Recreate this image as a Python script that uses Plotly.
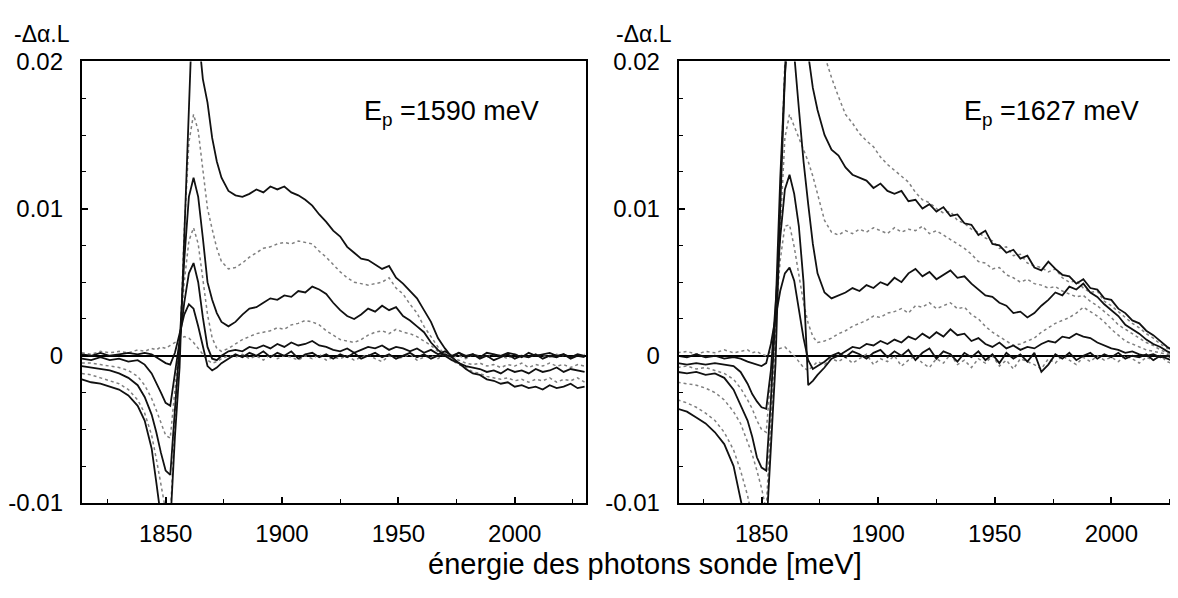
import plotly.graph_objects as go

# ---------------- data (probe photon energy in meV, signal in units of 1e-3) ----------------
E = [1814, 1818, 1822, 1826, 1830, 1834, 1838, 1841, 1844, 1846, 1848, 1850, 1852, 1854, 1856,
     1858, 1860, 1862, 1864, 1866, 1868, 1870, 1872, 1874, 1877, 1880, 1883, 1886, 1889, 1892,
     1895, 1898, 1901, 1904, 1907, 1910, 1913, 1916, 1919, 1922, 1925, 1928, 1931, 1934, 1937,
     1940, 1943, 1946, 1949, 1952, 1955, 1958, 1961, 1964, 1967, 1970, 1973, 1976, 1979, 1982,
     1985, 1988, 1991, 1994, 1997, 2000, 2003, 2006, 2009, 2012, 2015, 2018, 2021, 2024, 2027, 2030]

SCALE = 1e-3  # values below are given in units of 1e-3

# Left panel, E_p = 1590 meV
left_c1_m = [-1.6, -1.8, -1.9, -2.1, -2.3, -2.7, -3.4, -4.4, -6.3, -8.6, -11.0, -12.5, -11.5, -5.5, -0.8,
             8.0, 17.0, 25.5, 22.0, 18.8, 17.2, 14.8, 13.2, 12.1, 11.2, 10.9, 10.8, 11.0, 11.3, 11.1,
             11.5, 11.3, 11.5, 11.1, 10.9, 10.6, 10.2, 9.6, 9.1, 8.5, 8.1, 7.4, 7.0, 6.6, 6.5,
             6.2, 5.9, 6.1, 5.3, 4.9, 4.4, 3.9, 3.1, 2.3, 1.2, 0.5, -0.1, -0.5, -0.9, -1.2,
             -1.3, -1.6, -1.7, -1.9, -1.8, -2.1, -2.0, -2.2, -2.1, -2.3, -2.0, -2.2, -2.1, -1.9, -2.2, -2.1]
left_c2_m = [-1.2, -1.3, -1.5, -1.7, -1.9, -2.3, -3.0, -3.9, -5.4, -7.0, -8.8, -10.5, -11.0, -4.5, 0.0,
             8.5, 14.5, 16.4, 15.3, 12.6, 10.0, 8.6, 7.3, 6.4, 5.9, 6.0, 6.3, 6.7, 7.0, 7.3,
             7.4, 7.6, 7.7, 7.6, 7.8, 7.7, 7.6, 7.1, 6.7, 6.2, 5.7, 5.3, 5.0, 4.9, 4.8,
             4.9, 5.0, 5.3, 4.6, 4.2, 3.5, 2.9, 2.0, 1.3, 0.6, 0.1, -0.3, -0.6, -0.8, -1.1,
             -1.2, -1.4, -1.5, -1.6, -1.5, -1.7, -1.6, -1.8, -1.6, -1.7, -1.5, -1.8, -1.6, -1.7, -1.5, -1.8]
left_c3_m = [-0.7, -0.8, -0.9, -1.0, -1.2, -1.5, -2.0, -2.8, -4.0, -5.2, -6.6, -7.8, -8.1, -3.5, 0.8,
             6.5, 10.8, 12.1, 10.8, 8.0, 5.0, 3.8, 2.9, 2.3, 2.0, 2.3, 2.8, 3.2, 3.3, 3.6,
             3.9, 3.8, 4.1, 4.0, 4.4, 4.3, 4.7, 4.5, 4.2, 3.6, 3.1, 2.7, 2.5, 2.8, 3.2,
             3.0, 3.4, 3.1, 3.3, 2.7, 2.4, 2.0, 1.6, 0.9, 0.4, 0.0, -0.3, -0.5, -0.7, -0.8,
             -0.9, -1.1, -1.0, -1.2, -0.9, -1.1, -1.0, -1.2, -0.9, -1.1, -1.0, -0.8, -1.1, -0.9, -1.0, -1.1]
left_c4_m = [-0.5, -0.5, -0.6, -0.7, -0.8, -1.0, -1.4, -2.0, -2.9, -3.7, -4.6, -5.4, -5.6, -2.2, 1.0,
             5.0, 7.8, 8.7, 7.6, 5.2, 2.8, 1.2, 0.5, 0.3, 0.5, 0.8, 1.1, 1.3, 1.5, 1.6,
             1.7, 1.9, 1.8, 2.1, 2.2, 2.4, 2.3, 2.1, 1.7, 1.4, 1.1, 1.0, 0.9, 1.1, 1.4,
             1.6, 1.7, 1.5, 1.8, 1.6, 1.5, 1.3, 1.0, 0.7, 0.3, 0.0, -0.2, -0.3, -0.5, -0.6,
             -0.5, -0.7, -0.6, -0.8, -0.6, -0.7, -0.5, -0.8, -0.6, -0.7, -0.5, -0.7, -0.6, -0.8, -0.6, -0.7]
left_c5_m = [-0.2, -0.3, -0.1, -0.3, -0.2, -0.4, -0.3, -0.6, -1.2, -1.8, -2.5, -3.2, -3.4, -1.2, 1.0,
             3.6, 5.6, 6.3, 5.0, 2.6, 0.6, -0.2, -0.3, 0.0, 0.3, 0.4, 0.3, 0.6, 0.5, 0.7,
             0.5, 0.8, 0.6, 0.9, 0.7, 0.8, 1.0, 0.7, 0.6, 0.4, 0.3, 0.5, 0.2, 0.4, 0.6,
             0.5, 0.7, 0.4, 0.6, 0.5, 0.3, 0.5, 0.2, 0.4, 0.1, 0.3, 0.0, 0.2, -0.1, 0.1,
             -0.2, 0.0, -0.3, -0.1, 0.1, -0.2, 0.0, -0.1, 0.1, -0.2, 0.0, -0.1, 0.1, -0.2, 0.0, -0.1]
left_c6_m = [0.1, 0.0, 0.2, 0.0, 0.1, 0.2, 0.1, 0.2, 0.1, -0.1, -0.3, -0.5, -0.6, 0.2, 1.5,
             2.8, 3.5, 3.2, 2.0, 0.6, -0.7, -1.0, -0.8, -0.5, -0.2, 0.1, -0.1, 0.2, 0.0, 0.3,
             -0.1, 0.2, 0.0, 0.3, -0.2, 0.1, 0.2, -0.1, 0.1, -0.2, 0.1, -0.1, 0.2, -0.2, 0.0,
             0.2, -0.1, 0.1, -0.2, 0.0, 0.2, -0.1, 0.1, -0.2, 0.0, 0.1, -0.1, 0.2, 0.0, 0.1,
             -0.1, 0.2, 0.1, 0.0, 0.2, 0.1, -0.1, 0.2, 0.0, 0.1, 0.2, 0.0, 0.1, -0.1, 0.1, 0.0]
left_c7_m = [0.2, 0.1, 0.3, 0.2, 0.3, 0.2, 0.4, 0.3, 0.5, 0.4, 0.6, 0.5, 0.7, 0.9, 1.1,
             1.3, 1.2, 0.9, 0.5, 0.1, -0.3, -0.5, -0.4, -0.2, 0.0, -0.1, 0.1, -0.2, 0.0, -0.3,
             0.1, -0.2, 0.0, -0.1, -0.3, 0.0, -0.2, 0.1, -0.3, -0.1, -0.2, 0.0, -0.3, -0.1, 0.1,
             -0.2, -0.4, 0.0, -0.2, -0.1, 0.1, -0.3, -0.1, 0.0, -0.2, 0.1, -0.1, 0.0, -0.2, 0.1,
             0.0, -0.1, 0.1, 0.0, -0.2, 0.1, 0.0, -0.1, 0.1, 0.0, -0.1, 0.1, 0.0, -0.1, 0.0, 0.1]

# Right panel, E_p = 1627 meV
right_c1_m = [-3.6, -3.8, -4.2, -4.6, -5.2, -6.0, -7.5, -9.8, -12.0, -13.0, -13.0, -13.0, -12.0, -6.0, -0.5,
              10.0, 20.0, 28.0, 30.0, 28.0, 24.0, 20.5, 18.2, 16.7, 15.0, 14.0, 13.6, 12.8, 12.3, 12.1,
              11.9, 11.4, 11.7, 11.2, 11.0, 11.2, 10.5, 10.6, 10.0, 10.3, 9.8, 10.1, 9.5, 9.6, 9.0,
              8.9, 8.2, 8.5, 7.6, 7.5, 7.0, 7.2, 6.6, 6.8, 6.0, 5.8, 6.4, 5.9, 5.5, 5.4,
              4.9, 5.2, 4.6, 4.5, 3.9, 3.8, 3.2, 2.9, 2.4, 2.2, 1.7, 1.4, 1.0, 0.6, 0.3, 0.1]
right_c2_m = [-3.0, -3.2, -3.5, -3.9, -4.4, -5.2, -6.4, -7.8, -9.5, -11.0, -12.5, -13.0, -12.0, -5.0, 1.0,
              11.0, 21.0, 29.0, 31.0, 30.0, 28.0, 26.0, 24.0, 22.3, 20.4, 18.9, 17.6, 16.4, 15.8, 15.1,
              14.6, 14.2, 13.5, 13.0, 12.6, 12.2, 11.8, 11.1, 10.6, 10.4, 10.0, 9.7, 9.8, 9.2, 9.0,
              8.6, 8.4, 8.0, 7.8, 7.3, 7.4, 6.8, 6.9, 6.3, 6.1, 6.0, 5.7, 5.9, 5.3, 5.0,
              5.1, 4.6, 4.3, 4.4, 3.7, 3.4, 3.0, 2.6, 2.2, 1.9, 1.5, 1.2, 0.8, 0.5, 0.3, 0.1]
right_c3_m = [-1.8, -1.9, -2.0, -2.2, -2.5, -3.0, -3.8, -4.6, -5.8, -6.7, -7.8, -9.0, -10.5, -4.0, 2.0,
              9.0, 14.8, 16.4, 15.6, 14.8, 14.0, 13.2, 12.2, 11.0, 9.2, 8.4, 8.2, 8.5, 8.3, 8.6,
              8.4, 8.7, 8.5, 8.3, 8.7, 8.4, 8.6, 8.5, 8.8, 8.3, 8.5, 8.2, 7.9, 7.6, 7.3,
              6.9, 6.4, 6.3, 5.9, 6.0, 5.5, 5.3, 5.0, 5.2, 4.9, 4.8, 4.6, 4.7, 4.4, 4.2,
              4.0, 4.1, 3.7, 3.4, 3.0, 2.6, 2.1, 1.8, 1.5, 1.2, 0.9, 0.7, 0.4, 0.2, 0.0, -0.1]
right_c4_m = [-1.1, -1.2, -1.1, -1.3, -1.2, -1.5, -2.3, -3.3, -4.4, -5.5, -6.9, -7.6, -7.8, -3.0, 3.0,
              12.0, 19.0, 23.0, 20.5, 16.8, 13.2, 10.3, 7.6, 5.6, 4.3, 3.9, 4.1, 4.3, 4.6, 4.4,
              4.8, 4.6, 5.0, 4.8, 5.3, 5.0, 5.6, 5.9, 5.4, 5.7, 5.2, 5.5, 5.8, 5.3, 5.4,
              4.9, 4.5, 4.1, 4.0, 3.6, 3.4, 2.9, 3.0, 2.6, 2.9, 3.4, 3.8, 4.3, 4.1, 4.7,
              4.5, 4.9, 4.3, 4.0, 3.5, 3.1, 2.7, 2.1, 1.8, 1.5, 1.1, 0.8, 0.6, 0.3, 0.1, 0.0]
right_c5_m = [-0.8, -0.7, -0.9, -0.8, -1.0, -1.2, -1.6, -2.2, -3.0, -3.6, -4.4, -5.0, -5.2, -1.5, 2.5,
              6.5, 8.8, 8.9, 7.4, 5.5, 3.6, 2.2, 1.3, 0.9, 1.0, 1.2, 1.5, 1.7, 2.0, 2.2,
              2.4, 2.7, 2.6, 2.9, 3.0, 3.2, 2.9, 3.4, 3.3, 3.6, 3.2, 3.4, 3.6, 3.2, 3.3,
              2.8, 2.5, 2.0, 1.6, 1.3, 1.0, 0.7, 0.8, 1.0, 1.2, 1.6, 1.9, 2.2, 2.4, 2.6,
              2.9, 3.3, 3.0, 2.7, 2.3, 1.8, 1.4, 1.0, 0.8, 0.6, 0.4, 0.3, 0.2, 0.1, 0.0, -0.1]
right_c6_m = [-0.5, -0.6, -0.5, -0.6, -0.5, -0.6, -0.7, -1.1, -1.9, -2.6, -3.1, -3.5, -3.6, -1.0, 3.5,
              8.0, 11.3, 12.3, 11.0, 8.8, 5.0, -2.0, -1.7, -1.3, -0.8, -0.2, 0.0, 0.3, 0.6, 0.5,
              0.8, 0.7, 1.0, 0.8, 1.1, 0.9, 1.3, 1.1, 1.5, 1.2, 1.6, 1.3, 1.8, 1.4, 1.5,
              1.0, 1.2, 0.8, 0.6, 0.9, 0.5, 0.7, 0.4, 0.6, 0.5, 0.8, 1.0, 0.9, 1.3, 1.2,
              1.5, 1.3, 1.2, 0.9, 0.7, 0.5, 0.4, 0.2, 0.3, 0.1, 0.0, 0.1, -0.1, 0.0, -0.2, 0.0]
right_c7_m = [0.0, -0.1, 0.1, -0.1, 0.0, -0.2, -0.1, -0.2, -0.4, -0.5, -0.6, -0.7, -0.5, 0.8, 2.6,
              4.4, 5.6, 6.0, 5.1, 3.2, 1.2, -0.3, -0.9, -0.7, -0.4, 0.0, 0.2, -0.1, 0.3, 0.1,
              -0.2, 0.2, 0.4, -0.1, 0.3, 0.0, 0.4, -0.3, 0.2, 0.5, -0.2, 0.3, 0.1, -0.4, 0.2,
              -0.1, 0.3, -0.3, 0.1, -0.5, 0.2, -0.2, 0.1, -0.4, 0.2, -1.1, -0.6, 0.1, -0.2, 0.2,
              -0.3, 0.0, 0.2, -0.2, 0.1, -0.1, 0.2, -0.2, 0.0, -0.1, 0.1, -0.3, 0.0, -0.2, -0.4, -0.3]
right_c8_m = [0.2, 0.3, 0.1, 0.3, 0.2, 0.4, 0.2, 0.3, 0.4, 0.2, 0.3, 0.1, 0.0, 0.3, 0.4,
              0.5, 0.6, 0.3, 0.0, -0.4, -0.8, -1.0, -0.7, -0.4, -0.6, -0.2, -0.4, -0.1, -0.5, -0.2,
              0.1, -0.6, -0.2, -0.4, 0.0, -0.7, -0.3, 0.0, -0.5, -0.8, -0.2, -0.5, 0.1, -0.6, -0.3,
              -0.8, -0.2, -0.5, 0.0, -0.7, -0.3, -0.9, -0.2, -0.4, -0.6, -0.9, -0.2, -0.5, 0.0, -0.3,
              -0.6, -0.1, -0.4, 0.0, -0.3, -0.1, -0.4, 0.0, -0.2, -0.5, -0.1, -0.3, 0.0, -0.4, -0.6, -0.3]

left_series = [("c2", left_c2_m, "dot"), ("c4", left_c4_m, "dot"), ("c7", left_c7_m, "dot"),
               ("c1", left_c1_m, "solid"), ("c3", left_c3_m, "solid"), ("c5", left_c5_m, "solid"),
               ("c6", left_c6_m, "solid")]
right_series = [("c2", right_c2_m, "dot"), ("c3", right_c3_m, "dot"), ("c5", right_c5_m, "dot"),
                ("c8", right_c8_m, "dot"),
                ("c1", right_c1_m, "solid"), ("c4", right_c4_m, "solid"), ("c6", right_c6_m, "solid"),
                ("c7", right_c7_m, "solid")]

Y_TICKS = [-0.01, 0, 0.01, 0.02]
Y_TICKTEXT = ["-0.01", "0", "0.01", "0.02"]
Y_MINOR = [-0.0075, -0.005, -0.0025, 0.0025, 0.005, 0.0075, 0.0125, 0.015, 0.0175]
X_TICKS = [1850, 1900, 1950, 2000]
X_MINOR = [1825, 1875, 1925, 1975, 2025]

# ---------------- figure ----------------
# The page body adds an 8 px offset, so the figure is 8 px smaller and all
# positions are measured 8 px left/up of the reference picture.
W, H = 1170, 590
FONT = "Liberation Sans, Arial, Helvetica, sans-serif"
fig = go.Figure()


def style(kind):
    if kind == "dot":
        return dict(color="#808080", width=1.5, dash="dot")
    return dict(color="#111111", width=1.8)


for name, vals, kind in left_series:
    fig.add_trace(go.Scatter(x=E, y=[v * SCALE for v in vals], mode="lines", line=style(kind),
                             xaxis="x", yaxis="y", showlegend=False, hoverinfo="skip", name=name))
for name, vals, kind in right_series:
    fig.add_trace(go.Scatter(x=E, y=[v * SCALE for v in vals], mode="lines", line=style(kind),
                             xaxis="x2", yaxis="y2", showlegend=False, hoverinfo="skip", name=name))

y_dom = [1 - 504 / H, 1 - 41.3 / H]


def xax(domain, rng, anchor):
    return dict(domain=domain, range=rng, anchor=anchor, tickmode="array", tickvals=X_TICKS,
                ticks="inside", ticklen=6, tickwidth=1.5, tickcolor="black",
                showline=True, linecolor="black", linewidth=2, mirror=True,
                showgrid=False, zeroline=False, ticklabelstandoff=8,
                tickfont=dict(family=FONT, size=24, color="black"),
                minor=dict(tickmode="array", tickvals=X_MINOR, ticks="inside", ticklen=4,
                           tickwidth=1.2, tickcolor="black", showgrid=False))


def yax(anchor, mirror):
    return dict(domain=y_dom, range=[-0.01, 0.02], anchor=anchor, tickmode="array",
                tickvals=Y_TICKS, ticktext=Y_TICKTEXT, ticks="inside", ticklen=6, tickwidth=1.5,
                tickcolor="black", showline=True, linecolor="black", linewidth=2, mirror=mirror,
                showgrid=False, zeroline=True, zerolinecolor="black", zerolinewidth=1.6,
                ticklabelstandoff=12, tickfont=dict(family=FONT, size=24, color="black"),
                minor=dict(tickmode="array", tickvals=Y_MINOR, ticks="inside", ticklen=4,
                           tickwidth=1.2, tickcolor="black", showgrid=False))


fig.update_layout(
    width=W, height=H, margin=dict(l=0, r=0, t=0, b=0),
    paper_bgcolor="white", plot_bgcolor="white",
    xaxis=xax([71 / W, 576 / W], [1814, 2030.4], "y"),
    yaxis=yax("x", True),
    xaxis2=xax([669.5 / W, 1.0], [1814.5, 2028.6], "y2"),
    yaxis2=yax("x2", False),
    annotations=[
        dict(text="-Δα.L", x=2 / W, y=1 - 13 / H, xref="paper", yref="paper", xanchor="left",
             yanchor="middle", showarrow=False, borderpad=0,
             font=dict(family=FONT, size=23, color="black")),
        dict(text="-Δα.L", x=606 / W, y=1 - 13 / H, xref="paper", yref="paper", xanchor="left",
             yanchor="middle", showarrow=False, borderpad=0,
             font=dict(family=FONT, size=23, color="black")),
        dict(text="E<sub>p</sub> =1590 meV", x=442 / W, y=1 - 95 / H, xref="paper", yref="paper",
             xanchor="center", yanchor="middle", showarrow=False,
             font=dict(family=FONT, size=27, color="black")),
        dict(text="E<sub>p</sub> =1627 meV", x=1043 / W, y=1 - 95 / H, xref="paper", yref="paper",
             xanchor="center", yanchor="middle", showarrow=False,
             font=dict(family=FONT, size=27, color="black")),
        dict(text="énergie des photons sonde [meV]", x=636 / W, y=1 - 568 / H, xref="paper",
             yref="paper", xanchor="center", yanchor="middle", showarrow=False,
             font=dict(family=FONT, size=29, color="black")),
    ],
)

fig.write_html("out.html")
